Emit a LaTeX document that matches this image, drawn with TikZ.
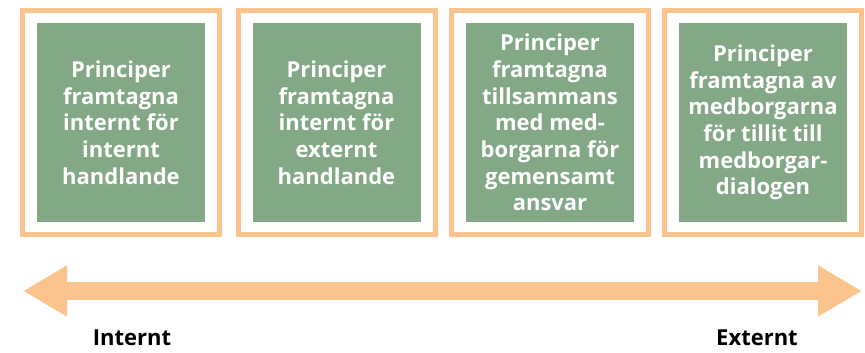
\documentclass[tikz,border=0pt]{standalone}
\usepackage{fontspec}
\setmainfont{Open Sans}
\usetikzlibrary{arrows.meta}
\definecolor{framecol}{RGB}{251,196,140}
\definecolor{cardcol}{RGB}{131,168,134}
\tikzset{
  frame/.style={draw=framecol, line width=5pt, minimum width=197pt, minimum height=224pt, inner sep=0pt},
  card/.style={fill=cardcol, text=white, align=center, inner sep=0pt,
    minimum width=168pt, minimum height=199pt,
    font=\fontsize{22}{26.7}\selectfont\bfseries},
  label/.style={font=\fontsize{22}{26}\selectfont\bfseries}
}

\begin{document}
\begin{tikzpicture}[x=1pt, y=-1pt]
	\useasboundingbox (0, 0) rectangle (865, 353);
	\node[frame] (f1) at (121, 122.5) {};
	\node[frame] (f2) at (336.5, 122.5) {};
	\node[frame] (f3) at (550, 122.5) {};
	\node[frame] (f4) at (763, 122.5) {};
	\node[card] (p1) at (f1) {Principer\\framtagna\\internt för\\internt\\handlande};
	\node[card] (p2) at (f2) {Principer\\framtagna\\internt för\\externt\\handlande};
	\node[card] (p3) at (f3) {Principer\\framtagna\\tillsammans\\med med-\\borgarna för\\gemensamt\\ansvar};
	\node[card] (p4) at (f4) {Principer\\framtagna av\\medborgarna\\för tillit till\\medborgar-\\dialogen};
	\coordinate (left) at (23, 291);
	\coordinate (right) at (862, 291);
	\draw[framecol, line width=18pt, {Triangle[width=48pt, length=44pt]}-{Triangle[width=48pt, length=44pt]}] (left) -- (right);
	\node[label] (int) at (132, 338) {Internt};
	\node[label] (ext) at (757, 338) {Externt};
\end{tikzpicture}
\end{document}
